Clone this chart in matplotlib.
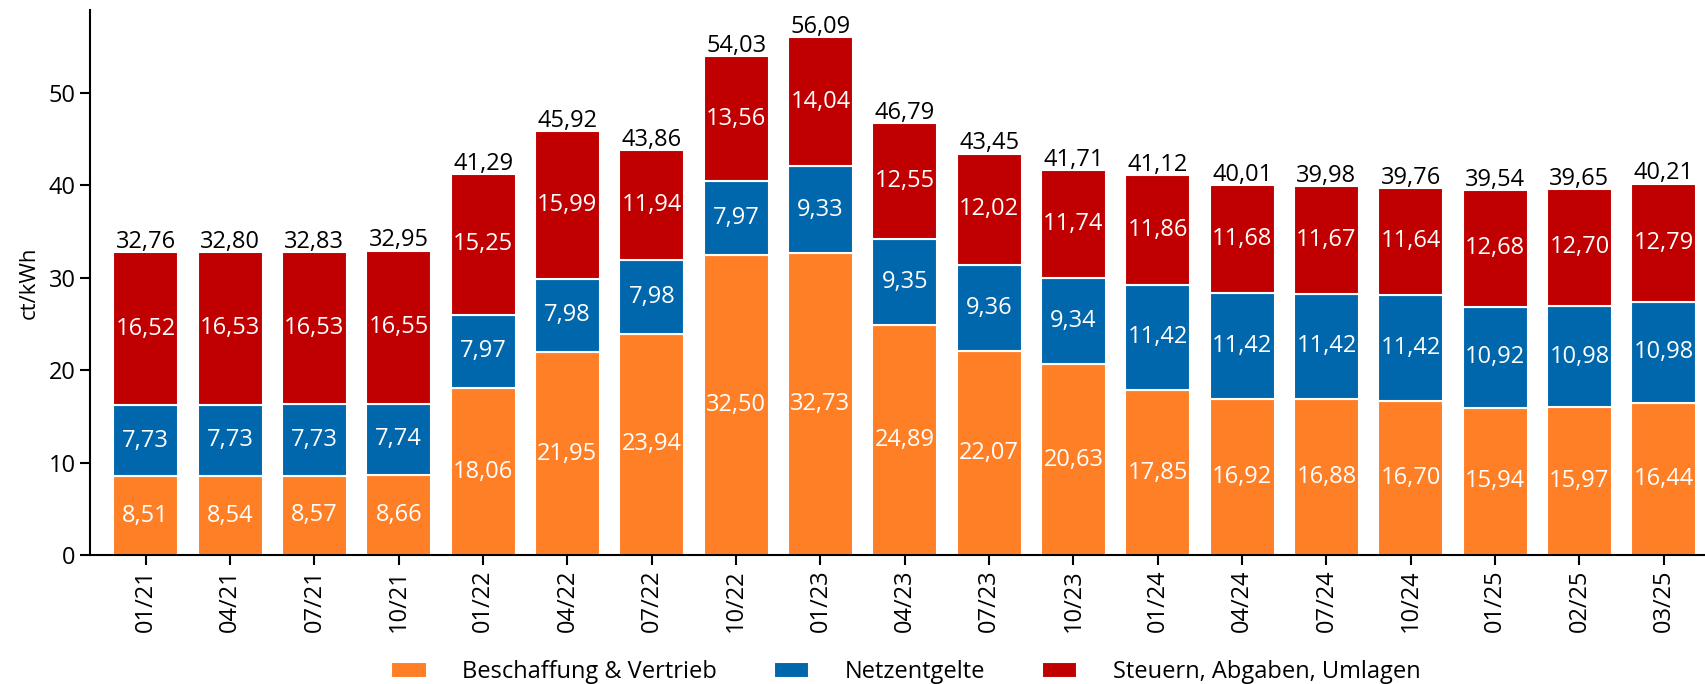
"""
Strompreis-Zusammensetzung (ct/kWh) als gestapeltes Balkendiagramm.
"""

import matplotlib
matplotlib.use("Agg")
import matplotlib.pyplot as plt
import numpy as np

plt.rcParams["font.family"] = ["Open Sans", "DejaVu Sans"]

periods = ["01/21", "04/21", "07/21", "10/21", "01/22", "04/22", "07/22", "10/22",
           "01/23", "04/23", "07/23", "10/23", "01/24", "04/24", "07/24", "10/24",
           "01/25", "02/25", "03/25"]

beschaffung = [8.51, 8.54, 8.57, 8.66, 18.06, 21.95, 23.94, 32.50, 32.73, 24.89,
               22.07, 20.63, 17.85, 16.92, 16.88, 16.70, 15.94, 15.97, 16.44]
netzentgelte = [7.73, 7.73, 7.73, 7.74, 7.97, 7.98, 7.98, 7.97, 9.33, 9.35,
                9.36, 9.34, 11.42, 11.42, 11.42, 11.42, 10.92, 10.98, 10.98]
steuern = [16.52, 16.53, 16.53, 16.55, 15.25, 15.99, 11.94, 13.56, 14.04, 12.55,
           12.02, 11.74, 11.86, 11.68, 11.67, 11.64, 12.68, 12.70, 12.79]
totals = [32.76, 32.80, 32.83, 32.95, 41.29, 45.92, 43.86, 54.03, 56.09, 46.79,
          43.45, 41.71, 41.12, 40.01, 39.98, 39.76, 39.54, 39.65, 40.21]

series = [
    ("Beschaffung & Vertrieb", beschaffung, "#FF7F27"),
    ("Netzentgelte", netzentgelte, "#0067AC"),
    ("Steuern, Abgaben, Umlagen", steuern, "#C00000"),
]


def de(v):
    # deutsches Dezimalkomma
    return f"{v:.2f}".replace(".", ",")


fig = plt.figure(figsize=(17.06, 6.84), dpi=100)
ax = fig.add_axes([0.0528, 0.1886, 0.9472, 0.7968])

x = np.arange(len(periods))
bottom = np.zeros(len(periods))
handles = []
for name, vals, color in series:
    vals = np.array(vals)
    bars = ax.bar(x, vals, 0.77, bottom=bottom, color=color, edgecolor="white",
                  linewidth=1.5, label=name)
    handles.append(bars)
    for xi, b, v in zip(x, bottom, vals):
        ax.text(xi, b + v / 2, de(v), ha="center", va="center", color="white",
                fontsize=17)
    bottom += vals

for xi, b, t in zip(x, bottom, totals):
    ax.annotate(de(t), (xi, b), xytext=(0, 3), textcoords="offset points",
                ha="center", va="baseline", fontsize=17, color="black")

ax.set_xlim(-0.66, 18.5)
ax.set_ylim(0, 59)
ax.set_yticks(range(0, 51, 10))
ax.set_xticks(x)
ax.set_xticklabels(periods, rotation=90)
ax.tick_params(axis="both", labelsize=17, length=7, width=1.5, direction="out")
ax.set_ylabel("ct/kWh", fontsize=16, labelpad=6)

for side in ("top", "right"):
    ax.spines[side].set_visible(False)
for side in ("left", "bottom"):
    ax.spines[side].set_linewidth(1.5)

fig.legend(handles=handles, loc="center", bbox_to_anchor=(0.531, 0.017), ncol=3,
           frameon=False, fontsize=17, handlelength=1.5, handleheight=0.7,
           columnspacing=2.4, handletextpad=1.5)

fig.savefig("out.png", dpi=100)
plt.close(fig)
